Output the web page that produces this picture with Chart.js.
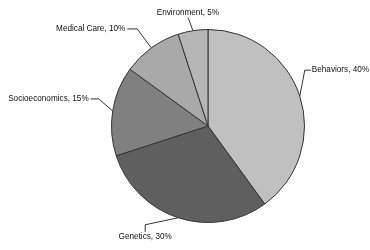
<!DOCTYPE html>
<html>
<head>
<meta charset="utf-8">
<script src="https://cdn.jsdelivr.net/npm/chart.js@4.4.0/dist/chart.umd.min.js"></script>
<style>
  html, body { margin: 0; padding: 0; background: #fff; }
  #wrap { width: 370px; height: 250px; }
</style>
</head>
<body>
<div id="wrap"><canvas id="chart" width="370" height="250"></canvas></div>
<script>
// data
const categories = ['Behaviors', 'Genetics', 'Socioeconomics', 'Medical Care', 'Environment'];
const shares = [40, 30, 15, 10, 5];
const sliceColors = ['#c0c0c0', '#5f5f5f', '#808080', '#a9a9a9', '#b6b6b6'];

// where each leader line bends, relative to the point on the arc, and how the text sits
const leaderLayout = [
  { elbow: [5, -26], end: [11, -26], align: 'left' },
  { elbow: [-33, 7], end: [-33, 14], align: 'center' },
  { elbow: [-14, -12], end: [-22, -12], align: 'right' },
  { elbow: [-14, -19], end: [-24, -19], align: 'right' },
  { elbow: [-4, -11], end: [-5, -13], align: 'center' },
];

// draws "Name, xx%" labels with bent leader lines
const leaderLabels = {
  id: 'leaderLabels',
  afterDatasetsDraw(chart) {
    const ctx = chart.ctx;
    const arcs = chart.getDatasetMeta(0).data;
    ctx.save();
    ctx.strokeStyle = '#333';
    ctx.lineWidth = 1;
    ctx.fillStyle = '#111';
    ctx.font = '8.2px "Liberation Sans", Arial, sans-serif';
    arcs.forEach((arc, i) => {
      const mid = (arc.startAngle + arc.endAngle) / 2;
      const px = arc.x + Math.cos(mid) * arc.outerRadius;
      const py = arc.y + Math.sin(mid) * arc.outerRadius;
      const lay = leaderLayout[i];
      const ex = px + lay.elbow[0], ey = py + lay.elbow[1];
      const tx = px + lay.end[0], ty = py + lay.end[1];
      ctx.beginPath();
      ctx.moveTo(px, py);
      ctx.lineTo(ex, ey);
      ctx.lineTo(tx, ty);
      ctx.stroke();
      const text = categories[i] + ', ' + shares[i] + '%';
      if (lay.align === 'left') {
        ctx.textAlign = 'left'; ctx.textBaseline = 'middle';
        ctx.fillText(text, tx + 1, ty);
      } else if (lay.align === 'right') {
        ctx.textAlign = 'right'; ctx.textBaseline = 'middle';
        ctx.fillText(text, tx - 2, ty);
      } else if (ty > arc.y) {
        ctx.textAlign = 'center'; ctx.textBaseline = 'top';
        ctx.fillText(text, tx, ty + 1);
      } else {
        ctx.textAlign = 'center'; ctx.textBaseline = 'bottom';
        ctx.fillText(text, tx, ty - 1);
      }
    });
    ctx.restore();
  }
};

const chart = new Chart(document.getElementById('chart').getContext('2d'), {
  type: 'pie',
  data: {
    labels: categories,
    datasets: [{
      data: shares,
      backgroundColor: sliceColors,
      borderColor: '#333',
      borderWidth: 1,
    }],
  },
  options: {
    responsive: false,
    animation: false,
    layout: {
      padding: { top: 29, bottom: 27, left: 111, right: 65 },
    },
    plugins: {
      legend: { display: false },
      tooltip: { enabled: false },
    },
  },
  plugins: [leaderLabels],
});
</script>
</body>
</html>
